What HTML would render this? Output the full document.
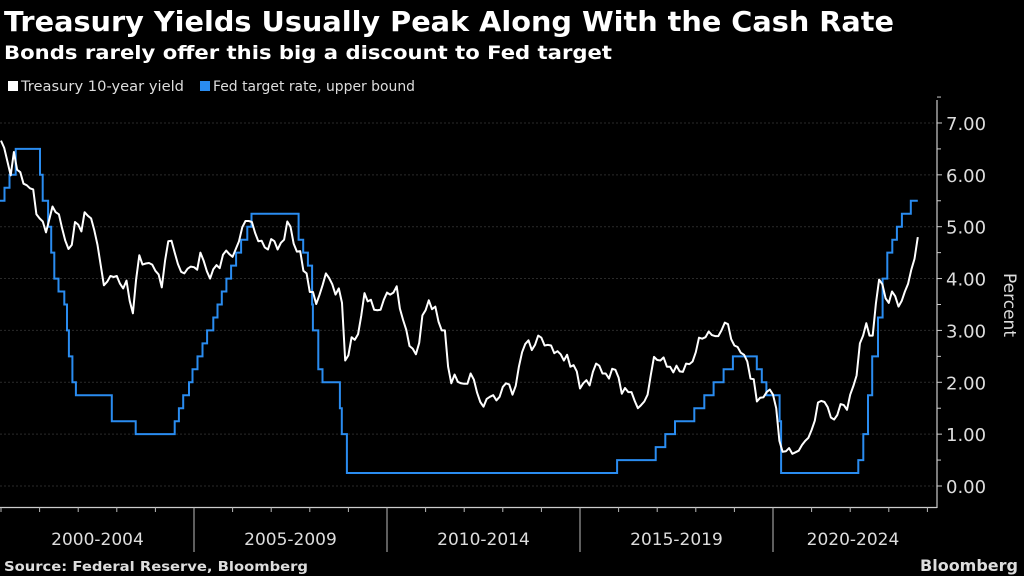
<!DOCTYPE html>
<html><head><meta charset="utf-8"><style>
html,body{margin:0;padding:0;background:#000;}
svg{display:block;font-family:"DejaVu Sans","Liberation Sans",sans-serif;}
</style></head><body>
<svg id="chart" width="1024" height="576" viewBox="0 0 1024 576">
<rect width="1024" height="576" fill="#000"/>
<text x="4" y="31" fill="#fff" font-weight="bold" font-size="28" textLength="890" lengthAdjust="spacingAndGlyphs">Treasury Yields Usually Peak Along With the Cash Rate</text>
<text x="4" y="59" fill="#fff" font-weight="bold" font-size="19" textLength="608" lengthAdjust="spacingAndGlyphs">Bonds rarely offer this big a discount to Fed target</text>
<g>
<rect x="8" y="81" width="10" height="10" fill="#fff"/>
<text x="21" y="91" fill="#ddd" font-size="14" textLength="163" lengthAdjust="spacingAndGlyphs">Treasury 10-year yield</text>
<rect x="200" y="81" width="10" height="10" fill="#2a8cf0"/>
<text x="213" y="91" fill="#ddd" font-size="14" textLength="202" lengthAdjust="spacingAndGlyphs">Fed target rate, upper bound</text>
</g>
<g id="grid"></g><g id="axes"></g><g id="series"></g>
<text transform="translate(1004,305) rotate(90)" fill="#ddd" font-size="17" text-anchor="middle">Percent</text>
<text x="4" y="571" fill="#ddd" font-weight="bold" font-size="13" textLength="304" lengthAdjust="spacingAndGlyphs">Source: Federal Reserve, Bloomberg</text>
<text x="1018" y="571" fill="#ddd" font-weight="bold" font-size="16" text-anchor="end">Bloomberg</text>
</svg>
<script>
const yTicks=[0,1,2,3,4,5,6,7];
const tickLabels=["0.00","1.00","2.00","3.00","4.00","5.00","6.00","7.00"];
const periodLabels=["2000-2004","2005-2009","2010-2014","2015-2019","2020-2024"];
const treasuryStart=2000.0;
const treasury=[6.66,6.52,6.26,5.99,6.44,6.10,6.05,5.83,5.80,5.74,5.72,5.24,
5.16,5.10,4.89,5.14,5.39,5.28,5.24,4.97,4.73,4.57,4.65,5.09,
5.04,4.91,5.28,5.21,5.16,4.93,4.65,4.26,3.87,3.94,4.05,4.03,
4.05,3.90,3.81,3.96,3.57,3.33,3.98,4.45,4.27,4.29,4.30,4.27,
4.15,4.08,3.83,4.35,4.72,4.73,4.50,4.28,4.13,4.10,4.19,4.23,
4.22,4.17,4.50,4.34,4.14,4.00,4.18,4.26,4.20,4.46,4.54,4.47,
4.42,4.57,4.72,4.99,5.11,5.11,5.09,4.88,4.72,4.73,4.60,4.56,
4.76,4.72,4.56,4.69,4.75,5.10,5.00,4.67,4.52,4.53,4.15,4.10,
3.74,3.74,3.51,3.68,3.88,4.10,4.01,3.89,3.69,3.81,3.53,2.42,
2.52,2.87,2.82,2.93,3.29,3.72,3.56,3.59,3.40,3.39,3.40,3.59,
3.73,3.69,3.73,3.85,3.42,3.20,3.01,2.70,2.65,2.54,2.76,3.29,
3.39,3.58,3.41,3.46,3.17,3.00,3.00,2.30,1.98,2.15,2.01,1.98,
1.97,1.97,2.17,2.05,1.80,1.62,1.53,1.68,1.72,1.75,1.65,1.72,
1.91,1.98,1.96,1.76,1.93,2.30,2.58,2.74,2.81,2.62,2.72,2.90,
2.86,2.71,2.72,2.71,2.56,2.60,2.54,2.42,2.53,2.30,2.33,2.21,
1.88,1.98,2.04,1.94,2.20,2.36,2.32,2.17,2.17,2.07,2.26,2.24,
2.09,1.78,1.89,1.81,1.81,1.64,1.50,1.56,1.63,1.76,2.14,2.49,
2.43,2.42,2.48,2.30,2.30,2.19,2.32,2.21,2.20,2.36,2.35,2.40,
2.58,2.86,2.84,2.87,2.98,2.91,2.89,2.89,3.00,3.15,3.12,2.83,
2.71,2.68,2.57,2.53,2.40,2.07,2.06,1.63,1.70,1.71,1.81,1.86,
1.76,1.50,0.87,0.66,0.67,0.73,0.62,0.65,0.68,0.79,0.87,0.93,
1.08,1.26,1.61,1.64,1.62,1.52,1.32,1.28,1.37,1.58,1.56,1.47,
1.76,1.93,2.13,2.75,2.90,3.14,2.90,2.90,3.52,3.98,3.89,3.62,
3.53,3.75,3.66,3.46,3.57,3.75,3.90,4.17,4.38,4.80];
const fedDates=[1999.9,2000.09,2000.22,2000.38,2001.01,2001.08,2001.22,2001.30,2001.38,2001.49,2001.64,2001.71,2001.76,2001.85,2001.94,2002.87,2003.49,2004.5,2004.61,2004.72,2004.87,2004.96,2005.09,2005.22,2005.34,2005.5,2005.61,2005.72,2005.84,2005.96,2006.09,2006.22,2006.38,2006.49,2007.71,2007.83,2007.95,2008.06,2008.08,2008.22,2008.33,2008.78,2008.83,2008.96,2015.96,2016.96,2017.21,2017.46,2017.96,2018.22,2018.46,2018.72,2018.96,2019.58,2019.71,2019.83,2020.17,2020.21,2022.21,2022.34,2022.46,2022.57,2022.72,2022.84,2022.96,2023.09,2023.21,2023.34,2023.57];
const fedRates=[5.5,5.75,6.0,6.5,6.0,5.5,5.0,4.5,4.0,3.75,3.5,3.0,2.5,2.0,1.75,1.25,1.0,1.25,1.5,1.75,2.0,2.25,2.5,2.75,3.0,3.25,3.5,3.75,4.0,4.25,4.5,4.75,5.0,5.25,4.75,4.5,4.25,3.5,3.0,2.25,2.0,1.5,1.0,0.25,0.5,0.75,1.0,1.25,1.5,1.75,2.0,2.25,2.5,2.25,2.0,1.75,1.25,0.25,0.5,1.0,1.75,2.5,3.25,4.0,4.5,4.75,5.0,5.25,5.5];
const fedEnd=2023.75;

const X0=0,X1=937,K=38.6;
const xs=t=>Math.max(X0,1+(t-2000)*K);
const ys=v=>486-v*51.86;
const NS="http://www.w3.org/2000/svg";
function mk(tag,attrs,parent){const e=document.createElementNS(NS,tag);for(const k in attrs)e.setAttribute(k,attrs[k]);document.getElementById(parent).appendChild(e);return e;}

yTicks.forEach((v,i)=>{
  const g=mk('line',{x1:0,x2:X1,y1:ys(v),y2:ys(v),stroke:'#2a2a2a','stroke-width':1,'stroke-dasharray':'2,2'},'grid');
  
  
  const t=mk('line',{x1:X1,x2:X1+5,y1:ys(v),y2:ys(v),stroke:'#ccc','stroke-width':1},'axes');
  
  
  const m=mk('line',{x1:X1,x2:X1+4,y1:ys(v+0.5),y2:ys(v+0.5),stroke:'#ccc','stroke-width':1},'axes');
  
  
  const l=mk('text',{x:X1+9,y:ys(v)+7,fill:'#ddd','font-size':18},'axes');
  l.textContent=tickLabels[i];
  
  
});
const ya=mk('line',{x1:X1,x2:X1,y1:100,y2:508,stroke:'#ccc','stroke-width':1.2},'axes');


const xa=mk('line',{x1:0,x2:X1,y1:507.5,y2:507.5,stroke:'#ccc','stroke-width':1.2},'axes');


for(let yr=2000;yr<=2024;yr++){
  const x=xs(yr);
  const big=(yr%5===0&&yr>2000);
  const t=mk('line',{x1:x,x2:x,y1:507,y2:big?552:512,stroke:'#bbb','stroke-width':1},'axes');
  
  
}
periodLabels.forEach((p,i)=>{
  const a=xs(2000+5*i),b=Math.min(X1,xs(2005+5*i));
  const l=mk('text',{x:i<4?(a+b)/2:853,y:545,fill:'#ddd','font-size':17,'text-anchor':'middle'},'axes');
  l.textContent=p;
  
  
});
let d='';
for(let i=0;i<fedDates.length;i++){
  const x=xs(fedDates[i]),y=ys(fedRates[i]);
  d+=(i===0?'M':'L')+x.toFixed(1)+','+(i===0?y:ys(fedRates[i-1])).toFixed(1)+(i===0?'':' L'+x.toFixed(1)+','+y.toFixed(1))+' ';
}
d+='L'+xs(fedEnd).toFixed(1)+','+ys(fedRates[fedRates.length-1]).toFixed(1);
const fp=mk('path',{d:d,fill:'none',stroke:'#2a8cf0','stroke-width':2},'series');


let d2='';
treasury.forEach((v,i)=>{d2+=(i?'L':'M')+xs(treasuryStart+i/12).toFixed(1)+','+ys(v).toFixed(1)+' ';});
const tp=mk('path',{d:d2,fill:'none',stroke:'#fff','stroke-width':2,'stroke-linejoin':'round'},'series');


</script>
</body></html>
